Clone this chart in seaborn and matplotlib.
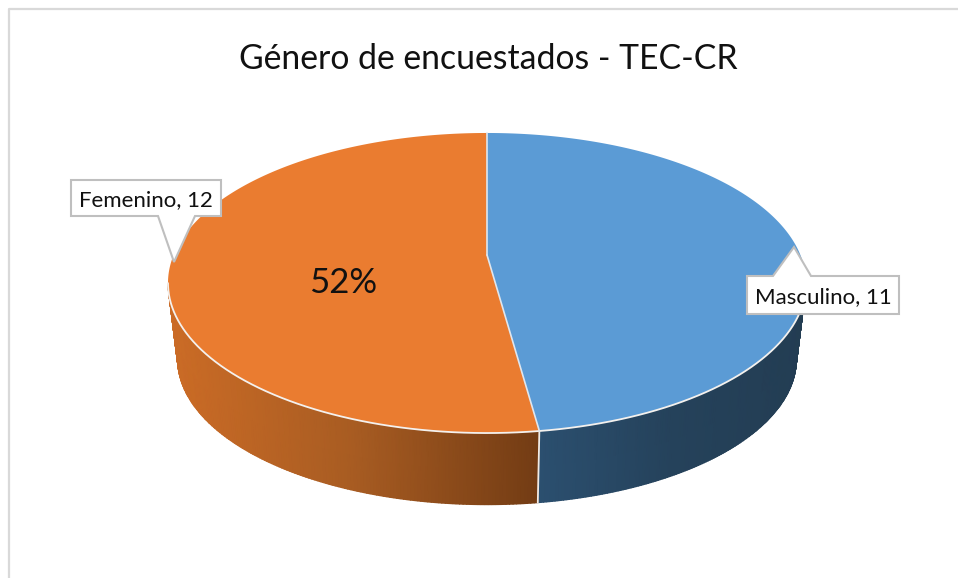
import numpy as np
import matplotlib.pyplot as plt
from matplotlib.patches import Polygon
import seaborn as sns

sns.set_theme(style='white')
plt.rcParams['font.family'] = ['Lato', 'DejaVu Sans']

title = 'Género de encuestados - TEC-CR'
categories = ['Masculino', 'Femenino']
counts = [11, 12]
top_colors = ['#5b9bd5', '#ea7c30']
wall_colors = [['#2b4f6f', '#25425b', '#233d53'], ['#cc6c26', '#a85c22', '#733c14']]

# pie geometry in image pixels
cx, cy = 487, 255
k = 0.1867
a, b = 144.8, 313.4
depth, shrink = 77, 0.97
vis_from, vis_to = 100.8, 259.2


def project(theta, scale=1.0, dy=0.0):
    t = np.radians(theta)
    w = 1 + k * np.cos(t)
    return cx + scale * b * np.sin(t) / w, cy - scale * a * np.cos(t) / w + dy


fig = plt.figure(figsize=(9.58, 5.78), dpi=100)
ax = fig.add_axes([0, 0, 1, 1])
ax.set_xlim(0, 958)
ax.set_ylim(578, 0)
ax.axis('off')

# chart border, the picture is cropped on the right and at the bottom
ax.plot([9, 9, 958], [578, 9, 9], color='#d9d9d9', lw=1.6)

edges = np.concatenate([[0], np.cumsum(counts)]) / sum(counts) * 360
x_limits = [(project(edges[1])[0], project(vis_from)[0]),
            (project(vis_to)[0], project(edges[1])[0])]

for i, cat in enumerate(categories):
    # side wall
    t0, t1 = max(edges[i], vis_from), min(edges[i + 1], vis_to)
    th = np.linspace(t0, t1, 160)
    xt, yt = project(th)
    xb, yb = project(th, shrink, depth)
    X = np.vstack([xt, xb])
    Y = np.vstack([yt, yb])
    lo, hi = min(x_limits[i]), max(x_limits[i])
    C = (X - lo) / (hi - lo)
    cmap = sns.blend_palette(wall_colors[i], as_cmap=True)
    ax.pcolormesh(X, Y, C, cmap=cmap, shading='gouraud', vmin=0, vmax=1, zorder=2)

    # top face
    th = np.linspace(edges[i], edges[i + 1], 240)
    xs, ys = project(th)
    ax.fill(np.r_[cx, xs], np.r_[cy, ys], color=top_colors[i], lw=0, zorder=3)

# light lines along the front rim and the seams
th = np.linspace(vis_from, vis_to, 300)
ax.plot(*project(th), color='#f4f1ee', lw=1.3, zorder=4)
seam = edges[1]
ax.plot([project(seam)[0], project(seam, shrink, depth)[0]],
        [project(seam)[1], project(seam, shrink, depth)[1]], color='#f0ebe6', lw=1.3, zorder=4)
ax.plot([cx, project(seam)[0]], [cy, project(seam)[1]], color='#dfe6ee', lw=1.2, zorder=4)
ax.plot([cx, project(0)[0]], [cy, project(0)[1]], color='#dfe6ee', lw=1.2, zorder=4)

# callouts
callouts = [
    (1, (71, 180, 221, 216), [(158, 216), (174, 262), (195, 216)]),
    (0, (747, 276, 899, 314), [(773, 276), (794, 247), (811, 276)]),
]
for i, (x0, y0, x1, y1), tip in callouts:
    if tip[1][1] > y1:
        pts = [(x0, y0), (x1, y0), (x1, y1), tip[2], tip[1], tip[0], (x0, y1)]
    else:
        pts = [(x0, y0), tip[0], tip[1], tip[2], (x1, y0), (x1, y1), (x0, y1)]
    ax.add_patch(Polygon(pts, closed=True, fc='white', ec='#bfbfbf', lw=1.5, zorder=5))
    ax.text((x0 + x1) / 2, (y0 + y1) / 2 + 2, f'{categories[i]}, {counts[i]}',
            ha='center', va='center', fontsize=16, color='#111111', zorder=6)

pct = round(counts[1] / sum(counts) * 100)
ax.text(343, 283, f'{pct}%', ha='center', va='center', fontsize=25, color='#111111', zorder=6)
ax.text(488, 59, title, ha='center', va='center', fontsize=24.3, color='#111111')

fig.savefig('out.png', dpi=100)
